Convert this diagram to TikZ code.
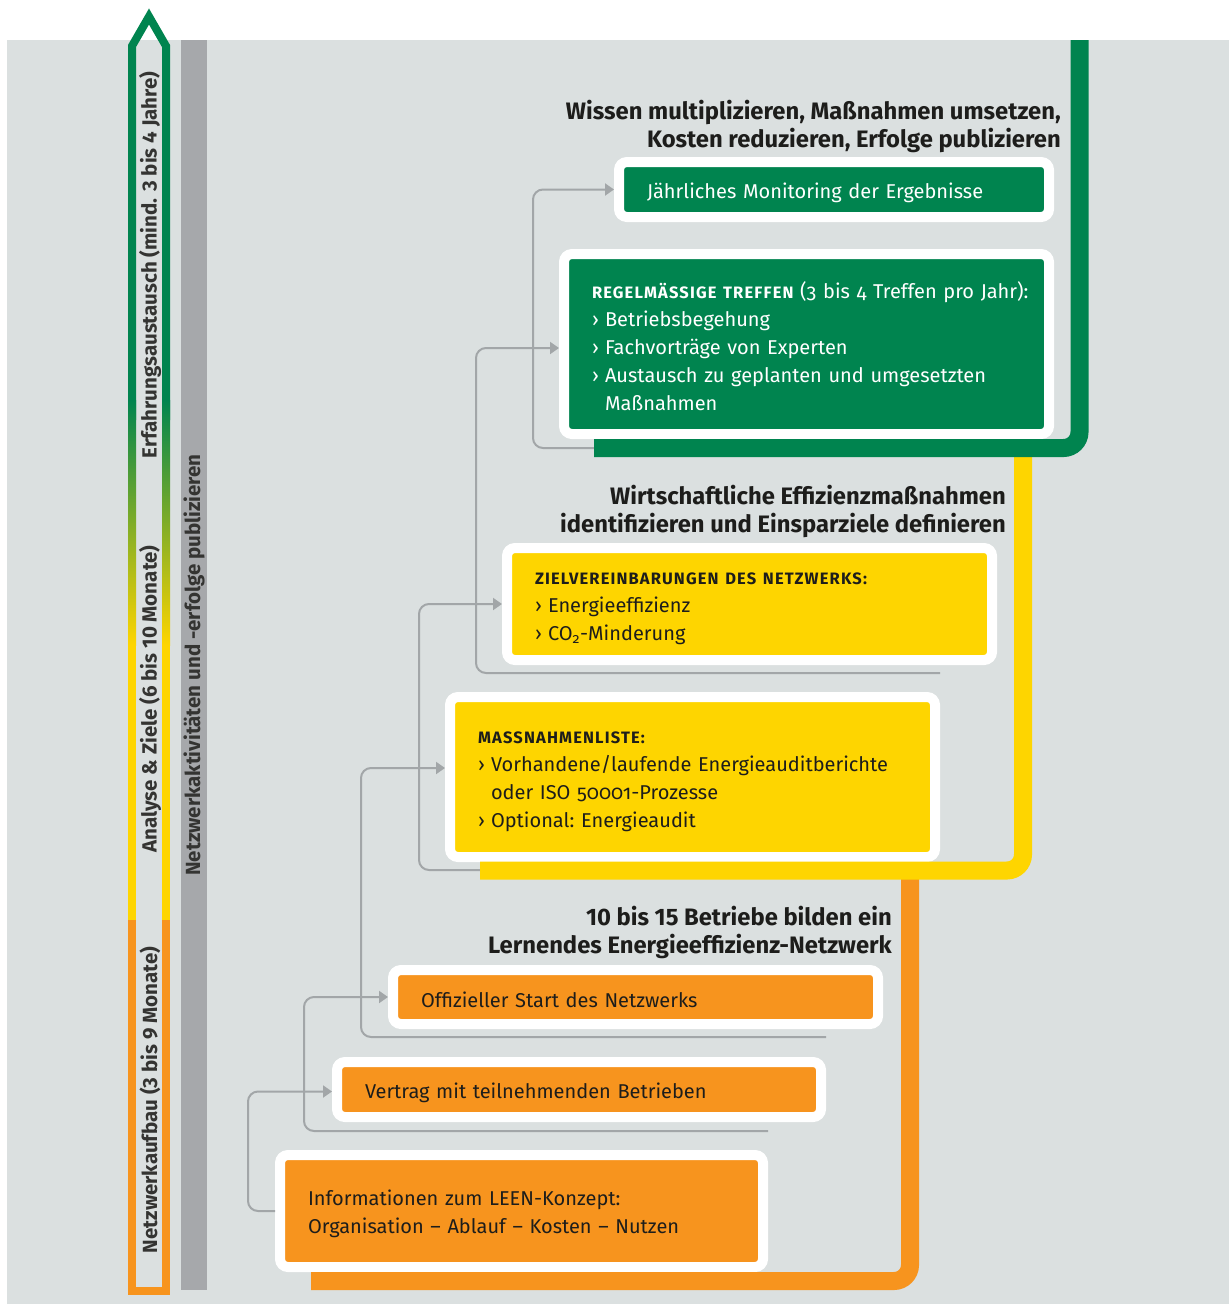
\documentclass[tikz,border=0pt]{standalone}
\usepackage{fontspec}
\setmainfont{Fira Sans}
\usetikzlibrary{arrows.meta}

\definecolor{hgrund}{HTML}{DBE0E0}
\definecolor{leengruen}{HTML}{00844F}
\definecolor{leengelb}{HTML}{FED500}
\definecolor{leenorange}{HTML}{F7941E}
\definecolor{balkengrau}{HTML}{A6A8AB}
\definecolor{liniengrau}{HTML}{A2A6A8}
\definecolor{schrift}{HTML}{1D1D1B}

\newcommand{\gliederung}{\makebox[13pt][l]{›}}
\newcommand{\einzug}{\hspace*{13pt}}
\newcommand{\kopf}[1]{{\fontsize{16.5}{28}\selectfont\bfseries\addfontfeature{LetterSpace=7}#1}}

\tikzset{
  box/.style={draw=white, line width=10pt, rounded corners=8pt, anchor=north west,
    inner xsep=0pt, align=left,
    font=\fontsize{20}{28}\selectfont\frenchspacing\addfontfeature{Numbers=OldStyle},
    execute at begin node={\rule{0pt}{21.5pt}}},
  gruenbox/.style={box, fill=leengruen, text=white},
  gelbbox/.style={box, fill=leengelb, text=schrift},
  orangebox/.style={box, fill=leenorange, text=schrift},
  band/.style={line width=18pt, rounded corners=16pt},
  verbinder/.style={liniengrau, line width=2pt, rounded corners=10pt,
    -{Triangle[length=9pt,width=12pt]}},
  stufe/.style={font=\fontsize{23.8}{28}\selectfont\bfseries, text=schrift,
    align=right, anchor=north east, inner sep=0pt},
  phase/.style={font=\fontsize{20.5}{22}\selectfont\bfseries, text=schrift!90,
    rotate=90, inner sep=0pt},
}

\begin{document}
\begin{tikzpicture}[x=1pt,y=-1pt]
    \useasboundingbox (0,0) rectangle (1229,1304);
    \fill[white] (0,0) rectangle (1229,1304);
    \fill[hgrund] (7,40) rectangle (1229,1304);

    % zeitachse links
    \draw[leengruen, line width=8pt, line join=miter] (132,420) -- (132,46) -- (149,16.5) -- (166,46) -- (166,420);
    \shade[top color=leengruen, bottom color=leengelb] (128,400) rectangle (136,645);
    \shade[top color=leengruen, bottom color=leengelb] (162,400) rectangle (170,645);
    \fill[leengelb] (128,645) rectangle (136,922);
    \fill[leengelb] (162,645) rectangle (170,922);
    \draw[leenorange, line width=8pt, line join=miter] (132,920) -- (132,1291) -- (166,1291) -- (166,920);
    \fill[balkengrau] (181,40) rectangle (207,1290);

    \node[phase] (erfahrung) at (150,265) {Erfahrungsaustausch (mind. 3 bis 4 Jahre)};
    \node[phase] (analyse) at (150,699) {Analyse \& Ziele (6 bis 10 Monate)};
    \node[phase] (aufbau) at (150,1100) {Netzwerkaufbau (3 bis 9 Monate)};
    \node[phase] (aktiv) at (194,665) {Netzwerkaktivitäten und -erfolge publizieren};

    % stufe 3
    \node[stufe] (stufe3) at (1061,100) {Wissen multiplizieren, Maßnahmen umsetzen,\\Kosten reduzieren, Erfolge publizieren};
    \node[gruenbox, minimum width=430, minimum height=55, text width=374] (jaehrlich) at (614,157)
        {Jährliches Monitoring der Ergebnisse};
    \node[gruenbox, minimum width=485, minimum height=180, text width=429] (treffen) at (559,249)
        {\mbox{\kopf{REGELMÄSSIGE TREFFEN} (3 bis 4 Treffen pro Jahr):}\\
         \gliederung Betriebsbegehung\\
         \gliederung Fachvorträge von Experten\\
         \mbox{\gliederung Austausch zu geplanten und umgesetzten}\\
         \einzug Maßnahmen};

    % stufe 2
    \node[stufe] (stufe2) at (1006,485) {Wirtschaftliche Effizienzmaßnahmen\\identifizieren und Einsparziele definieren};
    \node[gelbbox, minimum width=485, minimum height=112, text width=429] (ziele) at (502,543)
        {\kopf{ZIELVEREINBARUNGEN DES NETZWERKS:}\\
         \gliederung Energieeffizienz\\
         \gliederung CO\textsubscript{2}-Minderung};
    \node[gelbbox, minimum width=485, minimum height=160, text width=429] (massnahmen) at (445,692)
        {\kopf{MASSNAHMENLISTE:}\\
         \mbox{\gliederung Vorhandene/laufende Energieauditberichte}\\
         \einzug oder ISO 50001-Prozesse\\
         \gliederung Optional: Energieaudit};

    % stufe 1
    \node[stufe] (stufe1) at (892,906) {10 bis 15 Betriebe bilden ein\\Lernendes Energieeffizienz-Netzwerk};
    \node[orangebox, minimum width=485, minimum height=54, text width=429] (start) at (388,965)
        {Offizieller Start des Netzwerks};
    \node[orangebox, minimum width=484, minimum height=55, text width=428] (vertrag) at (332,1057)
        {Vertrag mit teilnehmenden Betrieben};
    \node[orangebox, minimum width=483, minimum height=112, text width=427] (info) at (275,1150)
        {Informationen zum LEEN-Konzept:\\
         Organisation – Ablauf – Kosten – Nutzen};

    % verbindungen
    \coordinate (ende2) at (768,1131);
    \coordinate (ende3) at (826,1037);
    \coordinate (ende4) at (482,870);
    \coordinate (ende5) at (940,673);
    \coordinate (ende6) at (596,448);
    \draw[verbinder] (info.west) -- ++(-27,0) |- ([yshift=-2pt]vertrag.west);
    \draw[verbinder] (ende2) -- ++(-464,0) |- (start.west);
    \draw[verbinder] (ende3) -- ++(-465,0) |- ([yshift=9pt]massnahmen.west);
    \draw[verbinder] (ende4) -- ++(-63,0) |- (ziele.west);
    \draw[verbinder] (ende5) -- ++(-464,0) |- ([yshift=-4pt]treffen.west);
    \draw[verbinder] (ende6) -- ++(-63,0) |- (jaehrlich.west);

    % baender
    \draw[band, leenorange] (910,870) -- (910,1281) -- (311,1281);
    \draw[band, leengelb] (1023,449) -- (1023,870.5) -- (480,870.5);
    \draw[band, leengruen] (1079.5,40) -- (1079.5,448) -- (594,448);
\end{tikzpicture}
\end{document}
